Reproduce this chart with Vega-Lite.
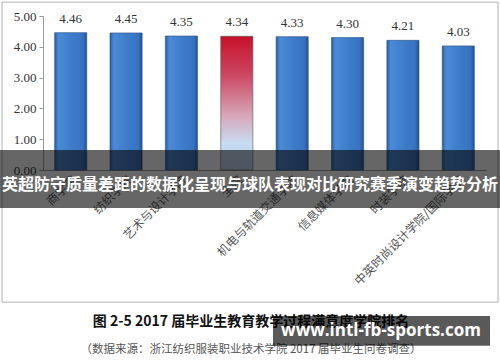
{
  "$schema": "https://vega.github.io/schema/vega-lite/v6.json",
  "width": 443,
  "height": 154,
  "autosize": "none",
  "padding": {"left": 43, "top": 16, "right": 14, "bottom": 192},
  "background": "white",
  "config": {
    "view": {"stroke": null},
    "axisY": {
      "labelOverlap": false, "labelSeparation": 0, "tickCount": 10,
      "labelFont": "Liberation Serif", "labelFontSize": 13, "labelColor": "#333333",
      "domainColor": "#999999", "tickColor": "#999999", "tickSize": 4, "grid": false,
      "labelPadding": 3, "title": null, "format": ".2f"
    }
  },
  "data": {
    "values": [
      {"college": "商学院", "score": 4.46, "type": "学院"},
      {"college": "纺织学院", "score": 4.45, "type": "学院"},
      {"college": "艺术与设计学院", "score": 4.35, "type": "学院"},
      {"college": "全院", "score": 4.34, "type": "全院"},
      {"college": "机电与轨道交通学院", "score": 4.33, "type": "学院"},
      {"college": "信息媒体学院", "score": 4.30, "type": "学院"},
      {"college": "时装学院", "score": 4.21, "type": "学院"},
      {"college": "中英时尚设计学院/国际学院", "score": 4.03, "type": "学院"}
    ]
  },
  "layer": [
    {
      "transform": [{"filter": "datum.type != '全院'"}],
      "mark": {
        "type": "bar",
        "fill": {
          "gradient": "linear", "x1": 0, "x2": 1, "y1": 0, "y2": 0,
          "stops": [
            {"offset": 0, "color": "#2c5f9f"},
            {"offset": 0.12, "color": "#4a8ad6"},
            {"offset": 0.45, "color": "#3f7fcc"},
            {"offset": 0.88, "color": "#3772c0"},
            {"offset": 1, "color": "#245393"}
          ]
        },
        "stroke": "#2a4f80",
        "strokeWidth": 0.6
      },
      "encoding": {
        "x": {
          "field": "college", "type": "nominal", "sort": null,
          "scale": {
            "domain": ["商学院", "纺织学院", "艺术与设计学院", "全院", "机电与轨道交通学院", "信息媒体学院", "时装学院", "中英时尚设计学院/国际学院"],
            "paddingInner": 0.42, "paddingOuter": 0.21
          },
          "axis": {
            "title": null, "labelAngle": -45, "labelFont": "Noto Sans CJK SC",
            "labelFontSize": 12, "labelColor": "#555555", "ticks": false,
            "domainColor": "#999999", "labelPadding": 4, "labelLimit": 0
          }
        },
        "y": {
          "field": "score", "type": "quantitative",
          "scale": {"domain": [0, 5]},
          "axis": {
            "title": null, "values": [0, 0.5, 1, 1.5, 2, 2.5, 3, 3.5, 4, 4.5, 5],
            "format": ".2f", "labelOverlap": false
          }
        }
      }
    },
    {
      "transform": [{"filter": "datum.type == '全院'"}],
      "mark": {
        "type": "bar",
        "fill": {
          "gradient": "linear", "x1": 0, "x2": 0, "y1": 0, "y2": 1,
          "stops": [
            {"offset": 0, "color": "#c8102a"},
            {"offset": 0.3, "color": "#cc4a64"},
            {"offset": 0.6, "color": "#d8a8ba"},
            {"offset": 0.8, "color": "#c6dcf2"},
            {"offset": 1, "color": "#bcd6f2"}
          ]
        },
        "stroke": "#555555",
        "strokeWidth": 0.6
      },
      "encoding": {
        "x": {"field": "college", "type": "nominal", "sort": null},
        "y": {"field": "score", "type": "quantitative"}
      }
    },
    {
      "mark": {
        "type": "text", "dy": -7, "baseline": "bottom",
        "font": "Liberation Serif", "fontSize": 13, "color": "#333333"
      },
      "encoding": {
        "x": {"field": "college", "type": "nominal", "sort": null},
        "y": {"field": "score", "type": "quantitative"},
        "text": {"field": "score", "type": "quantitative", "format": ".2f"}
      }
    },
    {
      "data": {"values": [{"top": 5.45, "bottom": -4.29}]},
      "mark": {"type": "rect", "fill": null, "stroke": "#b0b0b0", "strokeWidth": 1},
      "encoding": {
        "x": {"value": -41},
        "x2": {"value": 455},
        "y": {"field": "top", "type": "quantitative"},
        "y2": {"field": "bottom"}
      }
    },
    {
      "data": {"values": [{"top": 0.65, "bottom": -1.23}]},
      "mark": {"type": "rect", "fill": "#080808", "opacity": 0.62},
      "encoding": {
        "x": {"value": -43},
        "x2": {"value": 457},
        "y": {"field": "top", "type": "quantitative"},
        "y2": {"field": "bottom"}
      }
    },
    {
      "data": {"values": [{"pos": -0.49, "label": "英超防守质量差距的数据化呈现与球队表现对比研究赛季演变趋势分析"}]},
      "mark": {
        "type": "text", "font": "Noto Sans CJK SC", "fontSize": 16, "fontWeight": "bold", "color": "white"
      },
      "encoding": {
        "x": {"value": 207},
        "y": {"field": "pos", "type": "quantitative"},
        "text": {"field": "label"}
      }
    },
    {
      "data": {"values": [{"pos": -4.935, "label": "图 2-5   2017 届毕业生教育教学过程满意度学院排名"}]},
      "mark": {
        "type": "text", "font": "Noto Sans CJK SC", "fontSize": 14, "fontWeight": "bold", "color": "#111111"
      },
      "encoding": {
        "x": {"value": 208},
        "y": {"field": "pos", "type": "quantitative"},
        "text": {"field": "label"}
      }
    },
    {
      "data": {"values": [{"pos": -5.84, "label": "（数据来源：浙江纺织服装职业技术学院 2017 届毕业生问卷调查）"}]},
      "mark": {
        "type": "text", "font": "Noto Sans CJK SC", "fontSize": 11.5, "color": "#555555"
      },
      "encoding": {
        "x": {"value": 208},
        "y": {"field": "pos", "type": "quantitative"},
        "text": {"field": "label"}
      }
    },
    {
      "data": {"values": [{"top": -4.74, "bottom": -5.71}]},
      "mark": {"type": "rect", "fill": "#000000", "opacity": 0.65},
      "encoding": {
        "x": {"value": 230},
        "x2": {"value": 447},
        "y": {"field": "top", "type": "quantitative"},
        "y2": {"field": "bottom"}
      }
    },
    {
      "data": {"values": [{"pos": -5.23, "label": "www.intl-fb-sports.com"}]},
      "mark": {
        "type": "text", "font": "Open Sans", "fontSize": 17, "fontWeight": "bold", "color": "white"
      },
      "encoding": {
        "x": {"value": 338},
        "y": {"field": "pos", "type": "quantitative"},
        "text": {"field": "label"}
      }
    }
  ]
}
